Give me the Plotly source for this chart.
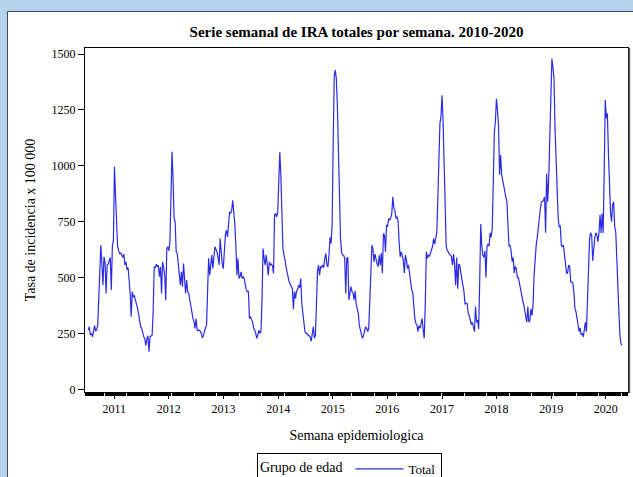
import pandas as pd
import plotly.graph_objects as go

# ---------------- data ----------------
semana_inicio = "2010-07-11"   # first epidemiological week plotted
tasa = [
    265, 280, 243, 250, 235, 265, 285, 260, 268, 285,
    420, 580, 645, 560, 466, 593, 570, 429, 556, 560,
    575, 590, 444, 640, 665, 996, 870, 700, 640, 620,
    608, 610, 600, 590, 605, 556, 570, 535, 545, 500,
    430, 325, 437, 414, 418, 400, 385, 365, 340, 310,
    280, 273, 250, 235, 228, 195, 225, 240, 168, 235,
    238, 243, 350, 548, 545, 560, 548, 555, 504, 548,
    429, 570, 545, 510, 399, 630, 637, 620, 660, 899,
    1063, 943, 764, 750, 615, 608, 556, 500, 466, 526,
    459, 563, 470, 429, 489, 437, 429, 395, 384, 347,
    317, 303, 273, 317, 265, 262, 265, 260, 250, 230,
    240, 260, 273, 288, 437, 586, 511, 570, 601, 541,
    601, 638, 625, 615, 590, 556, 675, 615, 560, 540,
    645, 690, 712, 682, 735, 794, 787, 800, 846, 794,
    740, 645, 511, 586, 496, 504, 526, 496, 505, 495,
    460, 444, 437, 440, 317, 325, 310, 302, 273, 265,
    250, 228, 243, 265, 250, 258, 400, 630, 586, 556,
    601, 563, 511, 570, 556, 560, 552, 519, 780, 787,
    772, 790, 930, 1060, 958, 820, 630, 600, 580, 545,
    520, 500, 480, 470, 460, 450, 360, 437, 407, 440,
    445, 466, 455, 496, 384, 347, 303, 258, 250, 250,
    243, 238, 235, 215, 250, 280, 230, 240, 377, 526,
    556, 511, 548, 545, 556, 545, 586, 608, 556, 548,
    600, 680, 653, 735, 1100, 1400, 1428, 1390, 1271, 1033,
    794, 675, 615, 601, 600, 586, 429, 586, 590, 400,
    430, 460, 437, 430, 400, 440, 380, 360, 340, 285,
    265, 258, 228, 240, 265, 280, 272, 258, 272, 400,
    560, 645, 630, 570, 605, 578, 560, 550, 600, 555,
    610, 519, 697, 690, 615, 735, 728, 764, 757, 767,
    787, 861, 809, 800, 764, 772, 755, 660, 593, 615,
    600, 578, 520, 601, 578, 540, 556, 511, 481, 444,
    437, 347, 317, 295, 288, 258, 285, 273, 295, 317,
    265, 228, 380, 615, 586, 601, 595, 610, 630, 640,
    675, 650, 675, 700, 850, 1100, 1190, 1220, 1316, 1200,
    1000, 800, 640, 620, 615, 605, 600, 595, 555, 605,
    560, 466, 590, 450, 560, 555, 520, 496, 460, 437,
    380, 385, 385, 340, 330, 300, 290, 300, 280, 258,
    370, 300, 310, 270, 480, 740, 640, 600, 590, 620,
    500, 640, 650, 640, 700, 680, 720, 900, 1150, 1197,
    1300, 1250, 1180, 960, 1048, 960, 930, 900, 880, 860,
    840, 730, 640, 645, 620, 571, 590, 520, 550, 540,
    500, 500, 470, 445, 430, 400, 380, 350, 335, 300,
    370, 300, 310, 360, 330, 377, 511, 586, 645, 680,
    742, 764, 809, 839, 840, 846, 861, 700, 966, 839,
    950, 1180, 1390, 1480, 1440, 1390, 1167, 1000, 880, 764,
    727, 730, 645, 640, 645, 600, 556, 520, 520, 556,
    550, 481, 481, 475, 437, 362, 347, 303, 288, 258,
    275, 243, 250, 235, 270, 300, 258, 400, 620, 675,
    700, 690, 575, 630, 680, 700, 690, 660, 700, 780,
    700, 787, 700, 980, 1294, 1212, 1234, 1060, 913, 794,
    750, 824, 839, 727, 705, 556, 466, 347, 243, 205,
    198,
]
anios = list(range(2011, 2021))
y_ticks = [0, 250, 500, 750, 1000, 1250, 1500]
serie_nombre = "Total"

titulo = "Serie semanal de IRA totales por semana. 2010-2020"
x_titulo = "Semana epidemiologica"
y_titulo = "Tasa de incidencia x 100 000"
leyenda_titulo = "Grupo de edad"

# ---------------- figure ----------------
OX, OY = 8, 12                 # window frame offset (blue border + dark edge)
W, H = 633 - OX, 477 - OY      # figure size inside the frame
ML, MR, MT, MB = 85 - OX, 5, 48 - OY, 85
PW, PH = W - ML - MR, H - MT - MB


def px_x(p):   # window pixel -> paper x
    return (p - OX - ML) / PW


def px_y(p):   # window pixel -> paper y
    return 1 - (p - OY - MT) / PH


FONT = "Liberation Serif, Times New Roman, serif"
fechas = pd.date_range(semana_inicio, periods=len(tasa), freq="7D")

fig = go.Figure()
fig.add_trace(go.Scatter(
    x=fechas, y=tasa, mode="lines", name=serie_nombre,
    line=dict(color="#2b2be3", width=1.2),
))

blue = "#b6d2ec"
edge = "#3c4c60"

fig.update_layout(
    width=W, height=H,
    margin=dict(l=ML, r=MR, t=MT, b=MB, pad=0, autoexpand=False),
    paper_bgcolor="white", plot_bgcolor="white",
    font=dict(family=FONT, size=12, color="black"),
    title=dict(text="<b>" + titulo + "</b>", x=0.5, xref="paper",
               y=1 - (32 - OY) / H, yref="container", yanchor="middle",
               font=dict(family=FONT, size=15, color="black")),
    shapes=[dict(type="line", xref="paper", yref="paper",
                 x0=px_x(629.5), x1=px_x(629.5), y0=px_y(393), y1=px_y(48),
                 line=dict(color="#666666", width=1.5))],
    showlegend=True,
    legend=dict(
        orientation="h", x=px_x(257), xanchor="left", y=px_y(453), yanchor="top",
        title=dict(text=leyenda_titulo, side="left",
                   font=dict(family=FONT, size=14, color="black")),
        font=dict(family=FONT, size=13, color="black"),
        bordercolor="black", borderwidth=1, bgcolor="white",
        itemwidth=48, tracegroupgap=0,
    ),
)

fig.update_xaxes(
    type="date",
    range=["2010-06-19", "2020-05-29"],
    tickvals=[f"{a}-01-01" for a in anios],
    ticktext=[str(a) for a in anios],
    ticks="outside", ticklen=6, tickwidth=1, tickcolor="black",
    minor=dict(ticks="outside", ticklen=3, tickcolor="black", tickwidth=1,
               dtick=7 * 24 * 3600 * 1000, tick0=semana_inicio, showgrid=False),
    showgrid=False, zeroline=False,
    showline=True, linecolor="black", linewidth=1, mirror=True,
    tickfont=dict(family=FONT, size=12, color="black"),
    title=dict(text=x_titulo, standoff=14,
               font=dict(family=FONT, size=14, color="black")),
)
fig.update_yaxes(
    range=[-12, 1527],
    tickvals=y_ticks,
    ticks="outside", ticklen=6, tickwidth=1, tickcolor="black",
    showgrid=False, zeroline=False,
    showline=True, linecolor="black", linewidth=1, mirror=True,
    tickfont=dict(family=FONT, size=12, color="black"),
    title=dict(text=y_titulo, standoff=12,
               font=dict(family=FONT, size=14, color="black")),
)

frame_js = (
    "document.documentElement.style.overflow='hidden';"
    "document.body.style.margin='0px';"
    f"document.body.style.background='{blue}';"
    "var gd=document.getElementById('{plot_id}');"
    f"gd.style.marginLeft='{OX - 1}px';gd.style.marginTop='{OY - 1}px';"
    f"gd.style.borderLeft='1px solid {edge}';gd.style.borderTop='1px solid {edge}';"
)

fig.write_html(
    "out.html",
    config={"displayModeBar": False},
    post_script=frame_js,
)
